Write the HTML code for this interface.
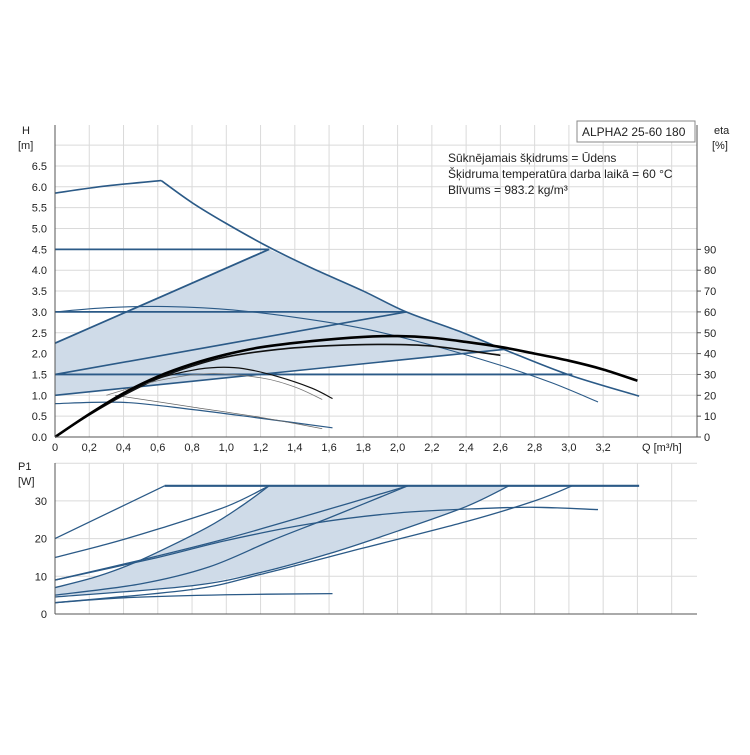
<!DOCTYPE html>
<html><head><meta charset="utf-8"><style>
body{margin:0;background:#fff;}
svg text{font-family:"Liberation Sans",sans-serif;font-size:11px;fill:#222;}
</style></head><body>
<svg id="c" width="750" height="750" xmlns="http://www.w3.org/2000/svg">
<rect x="0" y="0" width="750" height="750" fill="#fff"/>
<g id="grid"></g><g id="fills"></g><g id="lines"></g><g id="axes"></g>
<rect x="577" y="121" width="118" height="21" fill="#fff" stroke="#888"/>
<text x="582" y="136" style="font-size:12px">ALPHA2 25-60 180</text>
<text x="448" y="162" style="font-size:12px">Sūknējamais šķidrums = Ūdens</text>
<text x="448" y="178" style="font-size:12px">Šķidruma temperatūra darba laikā = 60 °C</text>
<text x="448" y="194" style="font-size:12px">Blīvums = 983.2 kg/m³</text>
<text x="714" y="134">eta</text>
<text x="712" y="149">[%]</text>
<text x="22" y="134">H</text>
<text x="18" y="149">[m]</text>
<text x="18" y="470">P1</text>
<text x="18" y="485">[W]</text>
<text x="642" y="451">Q [m³/h]</text>
</svg>
<script>
// ---- data ----
const qTicks=[0,0.2,0.4,0.6,0.8,1.0,1.2,1.4,1.6,1.8,2.0,2.2,2.4,2.6,2.8,3.0,3.2];
const qGrid=[0,0.2,0.4,0.6,0.8,1.0,1.2,1.4,1.6,1.8,2.0,2.2,2.4,2.6,2.8,3.0,3.2,3.4,3.6];
const hTicks=[0,0.5,1,1.5,2,2.5,3,3.5,4,4.5,5,5.5,6,6.5];
const hGrid=[0,0.5,1,1.5,2,2.5,3,3.5,4,4.5,5,5.5,6,6.5,7];
const etaTicks=[0,10,20,30,40,50,60,70,80,90];
const pTicks=[0,10,20,30];
const pGrid=[0,10,20,30,40];
// head curves [Q,H]
const hMaxRise=[[0,5.85],[0.3,6.02],[0.62,6.15]];
const hMaxFall=[[0.62,6.15],[0.8,5.62],[1.0,5.12],[1.25,4.55],[1.5,4.05],[1.8,3.5],[2.05,3.0],[2.35,2.55],[2.62,2.1],[3.0,1.49],[3.41,0.98]];
const hConst45=[[0,4.5],[1.25,4.5]];
const hConst30=[[0,3.0],[2.05,3.0]];
const hConst15=[[0,1.5],[3.02,1.5]];
const hProp1=[[0,2.25],[1.25,4.5]];
const hProp2=[[0,1.5],[2.05,3.0]];
const hProp3=[[0,1.0],[2.62,2.1]];
const hSpeed=[[0,3.0],[0.3,3.1],[0.6,3.13],[1.0,3.06],[1.4,2.87],[1.8,2.6],[2.2,2.2],[2.6,1.72],[2.9,1.3],[3.17,0.84]];
const hLow=[[0,0.8],[0.4,0.83],[0.8,0.66],[1.2,0.45],[1.62,0.22]];
const hLow2=[[0.35,1.0],[0.8,0.72],[1.2,0.47],[1.56,0.2]];
const etaMain=[[0,0],[0.2,0.55],[0.4,1.05],[0.6,1.45],[0.8,1.75],[1.0,1.98],[1.2,2.15],[1.5,2.3],[1.8,2.4],[2.0,2.42],[2.2,2.38],[2.4,2.28],[2.6,2.16],[2.8,2.0],[3.0,1.83],[3.2,1.62],[3.4,1.35]];
const eta2=[[0,0],[0.2,0.53],[0.4,1.0],[0.6,1.4],[0.8,1.7],[1.0,1.92],[1.3,2.1],[1.6,2.19],[1.9,2.22],[2.2,2.18],[2.6,1.96]];
const eta3=[[0,0],[0.2,0.55],[0.4,1.05],[0.6,1.4],[0.8,1.6],[0.95,1.67],[1.1,1.64],[1.3,1.45],[1.5,1.17],[1.62,0.92]];
const eta3b=[[0.3,1.0],[0.6,1.35],[0.9,1.52],[1.2,1.42],[1.4,1.2],[1.56,0.9]];
// power curves [Q,P1]
const pMax=[[0.64,34],[3.41,34]];
const pA=[[0,20],[0.64,34]];
const pB=[[0,15],[0.3,18.5],[0.6,22.5],[1.0,28.5],[1.25,34]];
const pC=[[0,7],[0.25,10],[0.5,14.3],[0.89,23],[1.1,29],[1.25,34]];
const pD=[[0,9],[0.5,14.3],[1.0,20],[1.5,26.5],[2.06,34]];
const pE=[[0,5],[0.5,8],[0.9,12.5],[1.27,19.6],[1.6,25.5],[2.06,34]];
const pF=[[0,9],[0.6,15],[1.0,19.5],[1.5,24],[2.0,26.8],[2.5,28],[2.8,28.3],[3.17,27.7]];
const pG=[[0,4.5],[0.8,7.5],[1.2,11],[1.6,16],[2.0,22],[2.4,28.5],[2.65,34]];
const pH=[[0,3],[0.8,6.5],[1.2,10.5],[1.8,17.5],[2.4,24.5],[2.8,30],[3.02,34]];
const pLow=[[0,3],[0.4,4.3],[1.0,5.1],[1.62,5.4]];
// ---- scales ----
const X=q=>55+171.3*q;
const YH=h=>437-41.7*h;
const YE=e=>437-2.085*e;
const YP=p=>614-3.77*p;
const NS='http://www.w3.org/2000/svg';
function mk(tag,parent,attrs){const e=document.createElementNS(NS,tag);for(const k in attrs)e.setAttribute(k,attrs[k]);document.getElementById(parent).appendChild(e);return e;}
function path(pts,ys){
  const p=pts.map(d=>[X(d[0]),ys(d[1])]);
  let s='M'+p[0][0]+','+p[0][1];
  for(let i=0;i<p.length-1;i++){
    const p0=p[Math.max(0,i-1)],p1=p[i],p2=p[i+1],p3=p[Math.min(p.length-1,i+2)];
    const c1=[p1[0]+(p2[0]-p0[0])/6,p1[1]+(p2[1]-p0[1])/6],c2=[p2[0]-(p3[0]-p1[0])/6,p2[1]-(p3[1]-p1[1])/6];
    s+=' C'+c1+' '+c2+' '+p2;
  }
  return s;
}
function line(pts,ys,name,col,w){
  const e=mk('path','lines',{d:path(pts,ys),fill:'none',stroke:col,'stroke-width':w});
  
  
}
// grid
qGrid.forEach(q=>{
  let e=mk('line','grid',{x1:X(q),x2:X(q),y1:125,y2:437,stroke:'#dadada'});
  
  
  e=mk('line','grid',{x1:X(q),x2:X(q),y1:463,y2:614,stroke:'#dadada'});
  
  
});
hGrid.forEach(h=>{
  const e=mk('line','grid',{x1:55,x2:697,y1:YH(h),y2:YH(h),stroke:'#dadada'});
  
  
});
pGrid.forEach(p=>{
  const e=mk('line','grid',{x1:55,x2:697,y1:YP(p),y2:YP(p),stroke:'#dadada'});
  
  
});
// fills
{
  const top=[[0,1.0],[0,2.25],[1.25,4.5]].concat(hMaxFall.filter(d=>d[0]>1.25&&d[0]<=2.62)).concat([[2.62,2.1],[0,1.0]]);
  const d='M'+top.map(t=>X(t[0])+','+YH(t[1])).join(' L')+'Z';
  const e=mk('path','fills',{d:d,fill:'#cfdbe8'});
  
  
  const pts=pC.concat([[2.65,34]]).concat(pG.slice().reverse());
  const d2='M'+pts.map(t=>X(t[0])+','+YP(t[1])).join(' L')+'Z';
  const e2=mk('path','fills',{d:d2,fill:'#cfdbe8'});
  
  
}
const B='#2b5a87';
line(hMaxRise,YH,'max-head-curve-rise',B,1.6);
line(hMaxFall,YH,'max-head-curve-fall',B,1.6);
line(hConst45,YH,'constant-pressure-4-5',B,1.8);
line(hConst30,YH,'constant-pressure-3-0',B,1.8);
line(hConst15,YH,'constant-pressure-1-5',B,1.8);
line(hProp1,YH,'proportional-pressure-1',B,1.8);
line(hProp2,YH,'proportional-pressure-2',B,1.6);
line(hProp3,YH,'proportional-pressure-3',B,1.6);
line(hSpeed,YH,'speed-curve',B,1.1);
line(hLow,YH,'min-curve',B,1.2);
line(hLow2,YH,'min-curve-2','#666',0.8);
line(eta2,YH,'eta-curve-2','#111',1.6);
line(eta3b,YH,'eta-curve-3b','#777',0.8);
line(eta3,YH,'eta-curve-3','#111',1.2);
line(etaMain,YH,'eta-curve-main','#000',2.6);
[pMax,pA,pB,pC,pD,pE,pF,pG,pH,pLow].forEach((s,i)=>{
  line(s,YP,'power-curve-'+i,B,i===0?2.2:1.3);
});
// axes
function ax(attrs,name){const e=mk('line','axes',Object.assign({stroke:'#555'},attrs));}
ax({x1:55,x2:55,y1:125,y2:437},'h-axis-line');
ax({x1:55,x2:697,y1:437,y2:437},'q-axis-line');
ax({x1:697,x2:697,y1:125,y2:437},'eta-axis-line');
ax({x1:55,x2:55,y1:463,y2:614},'p1-axis-line');
ax({x1:55,x2:697,y1:614,y2:614},'p1-q-axis-line');
function tx(x,y,s,anchor,name){const e=mk('text','axes',{x:x,y:y,'text-anchor':anchor});e.textContent=s;}
hTicks.forEach(h=>tx(47,YH(h)+4,h.toFixed(1),'end','h-tick-label'));
etaTicks.forEach(v=>{ax({x1:697,x2:701,y1:YE(v),y2:YE(v)},'eta-tick');tx(704,YE(v)+4,String(v),'start','eta-tick-label');});
qTicks.forEach(q=>tx(X(q),451,q===0?'0':q.toFixed(1).replace('.',','),'middle','q-tick-label'));
pTicks.forEach(p=>tx(47,YP(p)+4,String(p),'end','p1-tick-label'));
</script>
</body></html>
